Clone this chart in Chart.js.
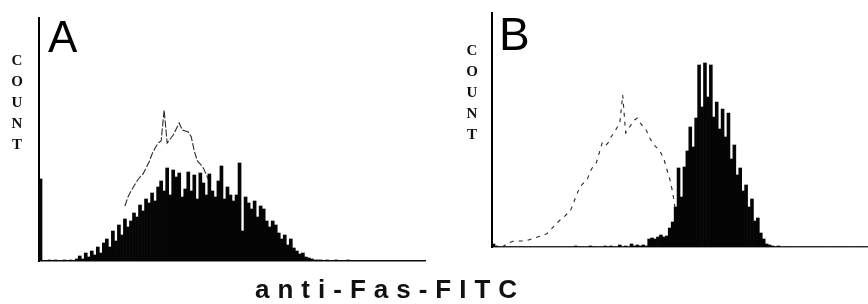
<!DOCTYPE html>
<html>
<head>
<meta charset="utf-8">
<script src="https://cdn.jsdelivr.net/npm/chart.js@4"></script>
<style>
  body { margin: 0; background: #fff; }
  #wrap { position: relative; width: 868px; height: 304px; overflow: hidden; }
  canvas { position: absolute; top: 0; }
  .panel { position: absolute; font-family: "Liberation Sans", Arial, sans-serif; color: #000; line-height: 1; }
  .count { position: absolute; width: 20px; text-align: center; font-family: "Liberation Serif", serif;
           font-weight: bold; font-size: 15px; line-height: 21px; color: #111; }
  #xtitle { position: absolute; left: 255px; top: 276px; font-family: "Liberation Sans", Arial, sans-serif;
            font-weight: bold; font-size: 26px; line-height: 26px; letter-spacing: 8px; color: #111; }
</style>
</head>
<body>
<div id="wrap">
  <canvas id="histA" width="430" height="304" style="left:0"></canvas>
  <canvas id="histB" width="438" height="304" style="left:430px"></canvas>
  <div class="panel" style="left:48px; top:15px; font-size:44px;">A</div>
  <div class="panel" style="left:499px; top:11px; font-size:46px;">B</div>
  <div class="count" style="left:7px; top:50px;">C<br>O<br>U<br>N<br>T</div>
  <div class="count" style="left:462px; top:40px;">C<br>O<br>U<br>N<br>T</div>
  <div id="xtitle">anti-Fas-FITC</div>
</div>
<script>
// channel bins (128 per panel), counts in arbitrary units
const channels = Array.from({ length: 128 }, (_, i) => String(i));

// Panel A - anti-Fas stained (filled) and control (outline)
const fasA = [
  82, 0, 0, 1, 0, 1, 0, 0, 1, 0, 1, 0, 2, 5, 2, 8,
  4, 10, 6, 14, 8, 18, 22, 14, 30, 20, 36, 26, 42, 34, 40, 48,
  44, 56, 50, 62, 58, 68, 60, 74, 80, 70, 93, 66, 91, 84, 88, 64,
  72, 89, 70, 86, 62, 88, 78, 66, 87, 70, 64, 80, 95, 62, 74, 66,
  60, 66, 98, 30, 64, 58, 52, 60, 44, 55, 52, 40, 34, 40, 36, 28,
  22, 26, 16, 22, 13, 10, 7, 8, 4, 3, 2, 1, 1, 1, 0, 1,
  0, 0, 1, 0, 0, 0, 1, 0, 0, 0, 0, 0, 0, 0, 0, 0,
  0, 0, 0, 0, 0, 0, 0, 0, 0, 0, 0, 0, 0, 0, 0, 0
];
const ctrlStartA = 28;
const ctrlA = [
  55, 64, 70, 75, 80, 84, 87, 93, 99, 107, 113, 118, 120, 151, 118,
  122, 126, 132, 138, 131, 130, 129, 124, 110, 100, 97, 93, 86, 80
];
const yMaxA = 243;

// Panel B
const fasB = [
  3, 1, 0, 0, 0, 0, 0, 0, 0, 0, 0, 0, 0, 0, 0, 0,
  0, 0, 0, 0, 0, 0, 0, 0, 0, 0, 0, 0, 1, 0, 0, 0,
  0, 1, 0, 0, 0, 0, 1, 0, 1, 0, 0, 2, 0, 1, 0, 3,
  1, 2, 1, 2, 1, 8, 9, 8, 10, 12, 10, 11, 19, 25, 40, 79,
  50, 80, 96, 120, 100, 129, 182, 140, 184, 150, 182, 130, 145, 118, 138, 110,
  134, 88, 102, 72, 79, 56, 62, 40, 48, 26, 29, 14, 8, 3, 2, 1,
  0, 1, 0, 0, 0, 0, 0, 0, 0, 0, 0, 0, 0, 0, 0, 0,
  0, 0, 0, 0, 0, 0, 0, 0, 0, 0, 0, 0, 0, 0, 0, 0
];
const ctrlStartB = 3;
const ctrlB = [
  0, 2, 4, 5, 6, 6, 6, 6, 7, 7, 8, 9, 10, 11, 12, 13,
  15, 19, 22, 25, 28, 30, 33, 35, 42, 50, 57, 62, 65, 68, 76, 81,
  84, 94, 104, 101, 104, 110, 114, 119, 124, 152, 114, 118, 123, 127, 129, 124,
  120, 117, 110, 105, 101, 98, 94, 88, 78, 68, 55, 35
];
const yMaxB = 234;

function padSeries(start, values) {
  return channels.map((_, i) => (i >= start && i < start + values.length) ? values[i - start] : null);
}

function drawHistogram(id, fas, ctrl, yMax, pad, dash, baseColor) {
  const ctx = document.getElementById(id);
  new Chart(ctx, {
    type: "bar",
    data: {
      labels: channels,
      datasets: [
        {
          label: "anti-Fas",
          data: fas,
          backgroundColor: "#050505",
          borderWidth: 0,
          barPercentage: 1,
          categoryPercentage: 1,
          order: 0
        },
        {
          type: "line",
          label: "control",
          data: ctrl,
          borderColor: "#2a2a2a",
          borderWidth: 1.1,
          borderDash: dash,
          pointRadius: 0,
          fill: false,
          tension: 0,
          order: 1
        }
      ]
    },
    options: {
      responsive: false,
      animation: false,
      layout: { padding: pad },
      plugins: {
        legend: { display: false },
        tooltip: { enabled: false }
      },
      scales: {
        x: {
          offset: true,
          grid: { display: false, drawTicks: false },
          ticks: { display: false },
          border: { display: true, color: baseColor, width: 1.6 }
        },
        y: {
          min: 0,
          max: yMax,
          grid: { display: false, drawTicks: false },
          ticks: { display: false },
          border: { display: true, color: "#000", width: 2 }
        }
      }
    }
  });
}

document.addEventListener("DOMContentLoaded", function () {
  drawHistogram("histA", fasA, padSeries(ctrlStartA, ctrlA), yMaxA,
    { left: 39, top: 18, right: 5, bottom: 43 }, [7, 2], "#111");
  drawHistogram("histB", fasB, padSeries(ctrlStartB, ctrlB), yMaxB,
    { left: 62, top: 13, right: 0, bottom: 57 }, [4, 5], "#444");
});
</script>
</body>
</html>
